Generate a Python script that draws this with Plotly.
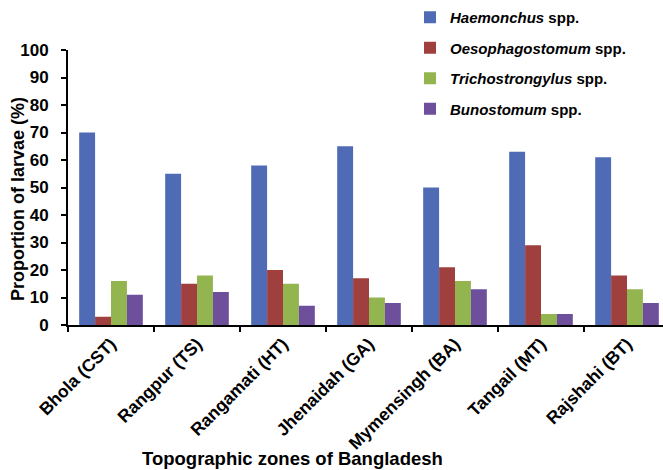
import plotly.graph_objects as go

zones = ["Bhola (CST)", "Rangpur (TS)", "Rangamati (HT)", "Jhenaidah (GA)",
         "Mymensingh (BA)", "Tangail (MT)", "Rajshahi (BT)"]
haemonchus = [70, 55, 58, 65, 50, 63, 61]
oesophagostomum = [3, 15, 20, 17, 21, 29, 18]
trichostrongylus = [16, 18, 15, 10, 16, 4, 13]
bunostomum = [11, 12, 7, 8, 13, 4, 8]

series = [
    ("<i>Haemonchus</i> spp.", haemonchus, "#4F6BB5"),
    ("<i>Oesophagostomum</i> spp.", oesophagostomum, "#A0403E"),
    ("<i>Trichostrongylus</i> spp.", trichostrongylus, "#93B550"),
    ("<i>Bunostomum</i> spp.", bunostomum, "#6E4F9C"),
]

fig = go.Figure()
for i, (name, vals, col) in enumerate(series):
    fig.add_trace(go.Bar(x=zones, y=vals, name=name, marker_color=col,
                         marker_line_width=0, legendgroup=f"g{i}"))

W, H = 663, 470
ml, mr, mt, mb = 68, 0, 50, 145
pw, ph = W - ml - mr, H - mt - mb

def px_x(p):
    return (p - ml) / pw

def px_y(p):
    return (H - mb - p) / ph

fig.update_layout(
    width=W, height=H,
    margin=dict(l=ml, r=mr, t=mt, b=mb, pad=0, autoexpand=False),
    paper_bgcolor="white", plot_bgcolor="white",
    font=dict(family="Liberation Sans, Arial, sans-serif", size=16,
              color="black", weight="bold"),
    barmode="group", bargap=0.26, bargroupgap=0,
    showlegend=True,
    legend=dict(xref="container", yref="container",
                x=410 / W, y=1 - 1 / H, xanchor="left", yanchor="top",
                font=dict(size=15), traceorder="grouped", tracegroupgap=8,
                itemwidth=30, bgcolor="rgba(0,0,0,0)"),
    xaxis=dict(range=[-0.5, 595 / 86 - 0.5], showline=True, linecolor="black",
               linewidth=2, ticks="outside", tickson="boundaries", ticklen=5,
               tickwidth=2, tickcolor="black", tickangle=-45,
               tickfont=dict(size=17.5), showgrid=False, zeroline=False,
               automargin=False),
    yaxis=dict(range=[0, 100], dtick=10, showline=True, linecolor="black",
               linewidth=2, ticks="outside", ticklen=5, tickwidth=2,
               tickcolor="black", tickfont=dict(size=17), showgrid=False,
               zeroline=False, automargin=False, ticklabelstandoff=9),
    annotations=[
        dict(text="Proportion of larvae (%)", xref="paper", yref="paper",
             x=px_x(18), y=px_y(199), textangle=-90, showarrow=False,
             xanchor="center", yanchor="middle", font=dict(size=18)),
        dict(text="Topographic zones of Bangladesh", xref="paper", yref="paper",
             x=px_x(292), y=px_y(458), showarrow=False,
             xanchor="center", yanchor="middle", font=dict(size=18.5)),
    ],
)

fig.write_html("out.html", config={"displayModeBar": False},
               post_script="document.body.style.margin='0';"
                           "document.body.style.overflow='hidden';")
